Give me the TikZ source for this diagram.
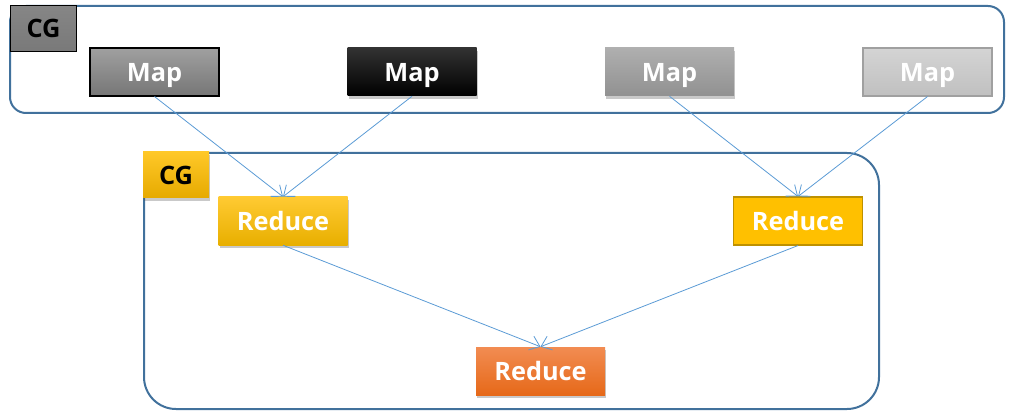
\documentclass[tikz,border=0pt]{standalone}
\usepackage{fontspec}
\setmainfont{Open Sans}
\usetikzlibrary{shadows,arrows.meta}
\definecolor{frameblue}{HTML}{41719C}
\definecolor{linkblue}{HTML}{5B9BD5}
\tikzset{
  box/.style={rectangle, minimum width=96.75pt, minimum height=36pt, inner sep=0pt,
    text height=13.6pt, text depth=0pt,
    font=\fontsize{19}{22}\selectfont\bfseries, text=white},
  cgbox/.style={rectangle, inner sep=0pt, text height=13.6pt, text depth=0pt,
    font=\fontsize{19}{22}\selectfont\bfseries, text=black},
  shad/.style={drop shadow={shadow xshift=1pt, shadow yshift=-2.5pt, opacity=0.3, fill=black!70}},
  container/.style={draw=frameblue, line width=1.5pt},
  link/.style={draw=linkblue, line width=0.6pt, -{Straight Barb[length=7pt,width=11pt,line width=0.6pt]}},
}
\begin{document}
\begin{tikzpicture}[x=0.75pt,y=-0.75pt]
\useasboundingbox (0,0) rectangle (1009,413);
% containers
\draw[container, rounded corners=12pt] (10,6) rectangle (1004,113);
\draw[container, rounded corners=24pt] (144,153) rectangle (879,409);
% CG labels
\node[cgbox, draw=black, line width=0.8pt, top color=gray!95!white, bottom color=gray!95!black,
      minimum width=50pt, minimum height=35pt] (cg1) at (43.5,28.5) {CG};
\node[cgbox, shad, top color={rgb,255:red,255;green,200;blue,40}, bottom color={rgb,255:red,230;green,170;blue,0},
      minimum width=49.5pt, minimum height=34.5pt] (cg2) at (176,175) {CG};
% maps
\node[box, draw=black, line width=0.8pt, top color={rgb,255:red,160;green,160;blue,160}, bottom color={rgb,255:red,118;green,118;blue,118}] (m1) at (154.5,72) {Map};
\node[box, shad, top color={rgb,255:red,50;green,50;blue,50}, bottom color=black] (m2) at (412,72) {Map};
\node[box, shad, top color={rgb,255:red,175;green,175;blue,175}, bottom color={rgb,255:red,145;green,145;blue,145}] (m3) at (669.5,72) {Map};
\node[box, draw={rgb,255:red,160;green,160;blue,160}, line width=0.8pt, top color={rgb,255:red,212;green,212;blue,212}, bottom color={rgb,255:red,192;green,192;blue,192}] (m4) at (927.5,72) {Map};
% reduces
\node[box, shad, top color={rgb,255:red,255;green,202;blue,50}, bottom color={rgb,255:red,232;green,175;blue,0}] (r1) at (283,221) {Reduce};
\node[box, draw={rgb,255:red,190;green,145;blue,0}, line width=0.8pt, fill={rgb,255:red,255;green,192;blue,0}] (r2) at (798,221) {Reduce};
\node[box, shad, top color={rgb,255:red,242;green,140;blue,82}, bottom color={rgb,255:red,230;green,105;blue,25}] (r3) at (540.5,371) {Reduce};
% links
\draw[link] (m1.south) -- (r1.north);
\draw[link] (m2.south) -- (r1.north);
\draw[link] (m3.south) -- (r2.north);
\draw[link] (m4.south) -- (r2.north);
\draw[link] (r1.south) -- (r3.north);
\draw[link] (r2.south) -- (r3.north);
\end{tikzpicture}
\end{document}
